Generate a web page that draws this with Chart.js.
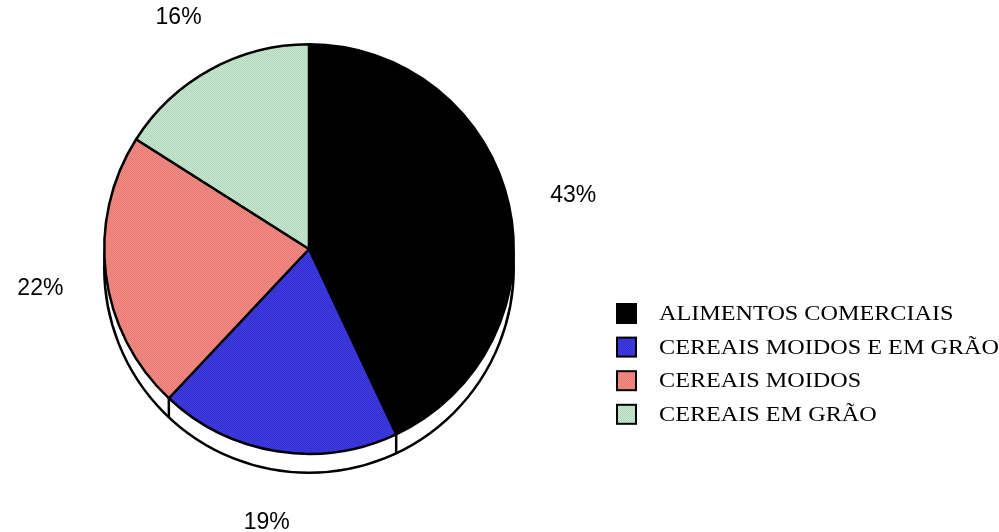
<!DOCTYPE html>
<html>
<head>
<meta charset="utf-8">
<script src="https://cdn.jsdelivr.net/npm/chart.js@4"></script>
<style>
  html, body { margin: 0; background: #fff; }
  #wrap { width: 999px; height: 532px; }
</style>
</head>
<body>
<div id="wrap"><canvas id="chart" width="999" height="532"></canvas></div>
<script>
// --- Data ---
const categories = ['ALIMENTOS COMERCIAIS', 'CEREAIS MOIDOS E EM GRÃO', 'CEREAIS MOIDOS', 'CEREAIS EM GRÃO'];
const shares = [43, 19, 22, 16];
const pctLabels = ['43%', '19%', '22%', '16%'];
const baseColors = ['#000000', '#3d3ae6', '#f28a84', '#c8e6cf'];
const shadeColors = ['#000000', '#3330cc', '#e87d77', '#b3d9bd'];

// --- Hatched fills ---
function makePattern(base, shade) {
    const c = document.createElement('canvas');
    c.width = 4; c.height = 4;
    const g = c.getContext('2d');
    g.fillStyle = base;
    g.fillRect(0, 0, 4, 4);
    g.fillStyle = shade;
    for (let i = 0; i < 4; i++) {
        g.fillRect(i, i, 1, 1);
        g.fillRect((i + 2) % 4, i, 1, 1);
    }
    return g.createPattern(c, 'repeat');
}
const fills = baseColors.map((b, i) => makePattern(b, shadeColors[i]));

const DEPTH = 19;

// 3D-ish base under the pie
const shadowPlugin = {
    id: 'shadow',
    beforeDatasetsDraw(chart) {
        const meta = chart.getDatasetMeta(0);
        if (!meta.data.length) return;
        const { x, y, outerRadius } = meta.data[0].getProps(['x', 'y', 'outerRadius'], true);
        const ctx = chart.ctx;
        ctx.save();
        ctx.lineWidth = 2.5;
        ctx.strokeStyle = '#000';
        ctx.fillStyle = '#fff';
        ctx.beginPath();
        ctx.arc(x, y + DEPTH, outerRadius, 0, Math.PI * 2);
        ctx.fill();
        ctx.stroke();
        meta.data.forEach(arc => {
            const a = arc.endAngle;
            if (Math.sin(a) > 0.05) {
                const px = x + outerRadius * Math.cos(a);
                const py = y + outerRadius * Math.sin(a);
                ctx.beginPath();
                ctx.moveTo(px, py);
                ctx.lineTo(px, py + DEPTH);
                ctx.stroke();
            }
        });
        ctx.restore();
    }
};

// percentage labels outside the slices
const pctPlugin = {
    id: 'pct',
    afterDatasetsDraw(chart) {
        const meta = chart.getDatasetMeta(0);
        const ctx = chart.ctx;
        ctx.save();
        ctx.font = '23px "Liberation Sans", Arial, sans-serif';
        ctx.fillStyle = '#000';
        ctx.textAlign = 'center';
        ctx.textBaseline = 'middle';
        meta.data.forEach((arc, i) => {
            const p = arc.getProps(['x', 'y', 'startAngle', 'endAngle', 'outerRadius'], true);
            const mid = (p.startAngle + p.endAngle) / 2;
            const r = p.outerRadius + 66;
            ctx.fillText(pctLabels[i], p.x + r * Math.cos(mid), p.y + 6 + r * Math.sin(mid));
        });
        ctx.restore();
    }
};

// legend on the right
const legendPlugin = {
    id: 'sideLegend',
    afterDraw(chart) {
        const ctx = chart.ctx;
        const boxX = 617, top = 304, step = 33.6, size = 19;
        ctx.save();
        categories.forEach((name, i) => {
            const by = top + i * step;
            ctx.fillStyle = fills[i];
            ctx.fillRect(boxX, by, size, size);
            ctx.lineWidth = 2;
            ctx.strokeStyle = '#000';
            ctx.strokeRect(boxX, by, size, size);
            ctx.save();
            ctx.translate(659, by + 16);
            ctx.scale(1.125, 1);
            ctx.font = '21.5px "Liberation Serif", "Times New Roman", serif';
            ctx.fillStyle = '#000';
            ctx.textBaseline = 'alphabetic';
            ctx.fillText(name, 0, 0);
            ctx.restore();
        });
        ctx.restore();
    }
};

new Chart(document.getElementById('chart'), {
    type: 'pie',
    data: {
        labels: categories,
        datasets: [{
            data: shares,
            backgroundColor: fills,
            borderColor: '#000',
            borderWidth: 2.5,
            hoverOffset: 0
        }]
    },
    options: {
        responsive: false,
        animation: false,
        devicePixelRatio: 1,
        layout: { padding: { left: 103, right: 484, top: 43, bottom: 77 } },
        plugins: { legend: { display: false }, tooltip: { enabled: false } }
    },
    plugins: [shadowPlugin, pctPlugin, legendPlugin]
});
</script>
</body>
</html>
